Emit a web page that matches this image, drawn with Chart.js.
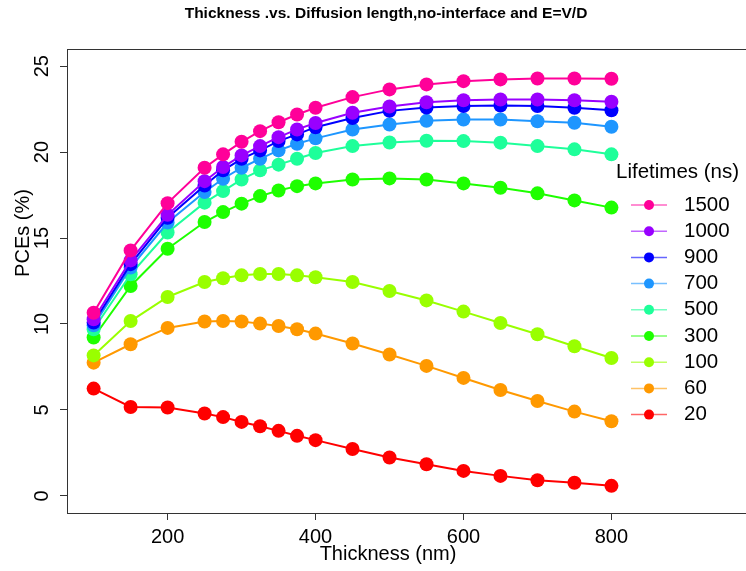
<!DOCTYPE html>
<html>
<head>
<meta charset="utf-8">
<script src="https://cdn.jsdelivr.net/npm/chart.js@4.4.0/dist/chart.umd.min.js"></script>
<style>
  html, body { margin:0; padding:0; background:#fff; overflow:hidden; width:746px; height:571px; }
  #wrap { width:800px; height:571px; position:relative; }
</style>
</head>
<body>
<div id="wrap"><canvas id="c" width="800" height="571"></canvas></div>
<script>
const thickness = [100,150,200,250,275,300,325,350,375,400,450,500,550,600,650,700,750,800];
const lifetimes = ["1500","1000","900","700","500","300","100","60","20"];
const pce1500 = [10.65,14.28,17.03,19.09,19.87,20.6,21.22,21.74,22.19,22.58,23.2,23.65,23.94,24.13,24.23,24.28,24.28,24.27];
const pce1000 = [10.27,13.7,16.35,18.31,19.13,19.81,20.35,20.87,21.32,21.69,22.29,22.65,22.9,23.02,23.06,23.06,23.02,22.93];
const pce900  = [10.08,13.48,16.18,18.06,18.94,19.61,20.1,20.64,21.03,21.45,21.98,22.4,22.6,22.68,22.71,22.68,22.58,22.44];
const pce700  = [9.92,13.28,15.9,17.68,18.45,19.09,19.61,20.1,20.49,20.8,21.32,21.61,21.82,21.9,21.9,21.8,21.71,21.48];
const pce500  = [9.69,12.89,15.32,17.06,17.73,18.41,18.94,19.27,19.61,19.95,20.35,20.56,20.66,20.64,20.55,20.35,20.16,19.87];
const pce300  = [9.21,12.21,14.38,15.93,16.51,17.0,17.44,17.77,18.02,18.18,18.41,18.47,18.41,18.18,17.93,17.6,17.19,16.77];
const pce100  = [8.17,10.17,11.57,12.44,12.66,12.83,12.91,12.91,12.83,12.72,12.44,11.92,11.37,10.72,10.06,9.4,8.7,8.02];
const pce60   = [7.75,8.82,9.77,10.14,10.17,10.14,10.02,9.88,9.69,9.44,8.86,8.22,7.56,6.86,6.16,5.52,4.9,4.34];
const pce20   = [6.24,5.17,5.14,4.79,4.58,4.3,4.05,3.78,3.49,3.24,2.72,2.23,1.84,1.45,1.16,0.91,0.76,0.58];
const seriesValues = [pce1500,pce1000,pce900,pce700,pce500,pce300,pce100,pce60,pce20];
const colors = ["#FF0099","#9900FF","#0000FF","#1E96FF","#1EFF9A","#1EFF00","#99FF00","#FF9900","#FF0000"];
const xTickValues = [200,400,600,800];
const yTickValues = [0,5,10,15,20,25];

const FONT = "'Liberation Sans', Arial, Helvetica, sans-serif";

const datasets = seriesValues.map((vals, i) => ({
  label: lifetimes[i],
  data: vals.map((v, j) => ({x: thickness[j], y: v})),
  borderColor: colors[i],
  backgroundColor: colors[i],
  pointBackgroundColor: colors[i],
  pointBorderColor: colors[i],
  pointRadius: 7,
  pointBorderWidth: 0,
  borderWidth: 2,
  tension: 0,
  fill: false
}));

function hexA(hex, a) {
  const r = parseInt(hex.slice(1,3),16), g = parseInt(hex.slice(3,5),16), b = parseInt(hex.slice(5,7),16);
  return `rgba(${r},${g},${b},${a})`;
}

const decor = {
  id: 'decor',
  afterDraw(chart) {
    const ctx = chart.ctx, a = chart.chartArea;
    ctx.save();
    // box
    ctx.strokeStyle = '#333';
    ctx.lineWidth = 1;
    ctx.strokeRect(a.left + 0.5, a.top + 0.5, a.right - a.left, a.bottom - a.top);
    // y tick labels (rotated)
    const ys = chart.scales.y;
    ctx.fillStyle = '#000';
    ctx.font = `20px ${FONT}`;
    ctx.textAlign = 'center';
    ctx.textBaseline = 'middle';
    yTickValues.forEach(v => {
      const py = ys.getPixelForValue(v);
      ctx.save();
      ctx.translate(42, py);
      ctx.rotate(-Math.PI / 2);
      ctx.fillText(String(v), 0, 0);
      ctx.restore();
    });
    // title
    ctx.font = `bold 15.5px ${FONT}`;
    ctx.fillText('Thickness .vs. Diffusion length,no-interface and E=V/D', 386, 14);
    // x label
    ctx.font = `20px ${FONT}`;
    ctx.fillText('Thickness (nm)', 388, 554);
    // y label
    ctx.save();
    ctx.translate(23, 233);
    ctx.rotate(-Math.PI / 2);
    ctx.fillText('PCEs (%)', 0, 0);
    ctx.restore();
    // legend
    ctx.font = `20.5px ${FONT}`;
    ctx.textAlign = 'left';
    ctx.fillText('Lifetimes (ns)', 616, 172);
    chart.data.datasets.forEach((ds, i) => {
      const y = 205 + i * 26.2;
      ctx.strokeStyle = hexA(ds.borderColor, 0.6);
      ctx.lineWidth = 1.5;
      ctx.beginPath();
      ctx.moveTo(631, y);
      ctx.lineTo(667, y);
      ctx.stroke();
      ctx.fillStyle = ds.borderColor;
      ctx.beginPath();
      ctx.arc(649, y, 5, 0, Math.PI * 2);
      ctx.fill();
      ctx.fillStyle = '#000';
      ctx.fillText(ds.label, 684, y);
    });
    ctx.restore();
  }
};

new Chart(document.getElementById('c'), {
  type: 'line',
  data: { datasets },
  options: {
    responsive: false,
    animation: false,
    devicePixelRatio: 1,
    layout: { padding: { left: 0, top: 49, right: 14, bottom: 0 } },
    plugins: { legend: { display: false }, title: { display: false }, tooltip: { enabled: false } },
    scales: {
      x: {
        type: 'linear',
        min: 64, max: 1036,
        afterBuildTicks: s => { s.ticks = xTickValues.map(v => ({value: v})); },
        afterFit: s => { s.height = 58; },
        grid: { display: true, drawOnChartArea: false, drawTicks: true, tickLength: 7, color: '#333' },
        border: { display: false },
        ticks: { color: '#000', font: { size: 20, family: FONT }, padding: 5, maxRotation: 0, minRotation: 0 }
      },
      y: {
        type: 'linear',
        min: -1, max: 26,
        afterBuildTicks: s => { s.ticks = yTickValues.map(v => ({value: v})); },
        afterFit: s => { s.width = 67; },
        grid: { display: true, drawOnChartArea: false, drawTicks: true, tickLength: 7, color: '#333' },
        border: { display: false },
        ticks: { display: false }
      }
    }
  },
  plugins: [decor]
});
</script>
</body>
</html>
